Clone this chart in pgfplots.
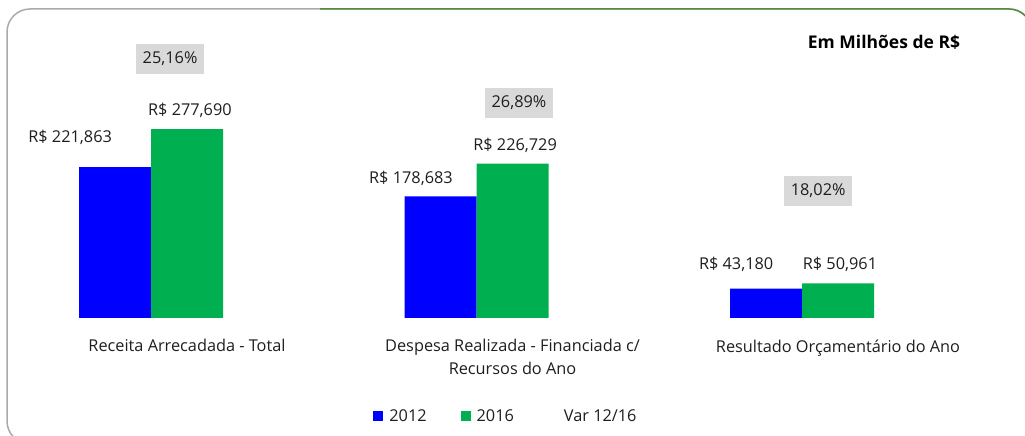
\documentclass[border=0pt]{standalone}
\usepackage{fontspec}
\setmainfont{Open Sans}
\usepackage{pgfplots}
\pgfplotsset{compat=1.18}
\definecolor{cblue}{RGB}{0,0,255}
\definecolor{cgreen}{RGB}{0,176,80}
\definecolor{boxgray}{RGB}{217,217,217}
\definecolor{txt}{RGB}{30,30,30}
\definecolor{bordergreen}{RGB}{84,140,66}
\definecolor{bordergray}{RGB}{170,170,170}
\newcommand{\lblfont}{\fontsize{16.3}{23}\selectfont}
\begin{document}
\begin{tikzpicture}[x=1pt,y=1pt]
\useasboundingbox (0,0) rectangle (1025,436);
\draw[bordergray, line width=1.5pt, rounded corners=23pt] (7,-8) rectangle (1032,427);
\draw[bordergreen, line width=1.5pt, rounded corners=23pt] (320,427) -- (1032,427) -- (1032,-8);
\begin{axis}[
 at={(24.25pt,118pt)}, anchor=south west,
 scale only axis, width=976.5pt, height=288pt,
 xmin=-0.5, xmax=2.5, ymin=0, ymax=423.2,
 axis line style={draw=none}, major tick length=0pt,
 ytick=\empty, xtick={0,1,2},
 xticklabels={{Receita Arrecadada - Total},{Despesa Realizada - Financiada c/\\Recursos do Ano},{Resultado Orçamentário do Ano}},
 xticklabel style={align=center, anchor=north, font=\lblfont, text=txt, yshift=-18pt},
 clip=false,
 legend columns=3,
 legend style={draw=none, fill=none, at={(0.4933,-0.34)}, anchor=center, font=\lblfont, text=txt,
   /tikz/every even column/.append style={column sep=32pt}},
]
\addplot[ybar, bar width=72pt, bar shift=-72pt, fill=cblue, draw=none,
  legend image code/.code={\fill[cblue] (0pt,-5pt) rectangle (10pt,5pt); \path (14pt,0pt);}]
  coordinates {(0,221.863) (1,178.683) (2,43.180)};
\addlegendentry{2012}
\addplot[ybar, bar width=72pt, bar shift=0pt, fill=cgreen, draw=none,
  legend image code/.code={\fill[cgreen] (0pt,-5pt) rectangle (10pt,5pt); \path (14pt,0pt);}]
  coordinates {(0,277.690) (1,226.729) (2,50.961)};
\addlegendentry{2016}
\addlegendimage{legend image code/.code={\path[draw=none,fill=none] (0pt,-5pt) rectangle (14pt,5pt);}}
\addlegendentry{Var 12/16}
% value labels
\node[font=\lblfont, text=txt] at (axis cs:-0.359,265.2) {R\$ 221,863};
\node[font=\lblfont, text=txt] at (axis cs:0.009,305.6) {R\$ 277,690};
\node[font=\lblfont, text=txt] at (axis cs:0.688,205.7) {R\$ 178,683};
\node[font=\lblfont, text=txt] at (axis cs:1.008,254.2) {R\$ 226,729};
\node[font=\lblfont, text=txt] at (axis cs:1.687,79.3) {R\$ 43,180};
\node[font=\lblfont, text=txt] at (axis cs:2.006,78.6) {R\$ 50,961};
% variation labels
\node[font=\lblfont, text=txt, fill=boxgray, minimum width=68pt, minimum height=30pt, inner sep=0pt] at (axis cs:-0.052,380.5) {25,16\%};
\node[font=\lblfont, text=txt, fill=boxgray, minimum width=68pt, minimum height=30pt, inner sep=0pt] at (axis cs:1.020,315.9) {26,89\%};
\node[font=\lblfont, text=txt, fill=boxgray, minimum width=68pt, minimum height=30pt, inner sep=0pt] at (axis cs:1.939,186.6) {18,02\%};
\end{axis}
\node[font=\fontsize{17.5}{20}\selectfont\bfseries, text=black] at (884,394) {Em Milhões de R\$};
\end{tikzpicture}
\end{document}
